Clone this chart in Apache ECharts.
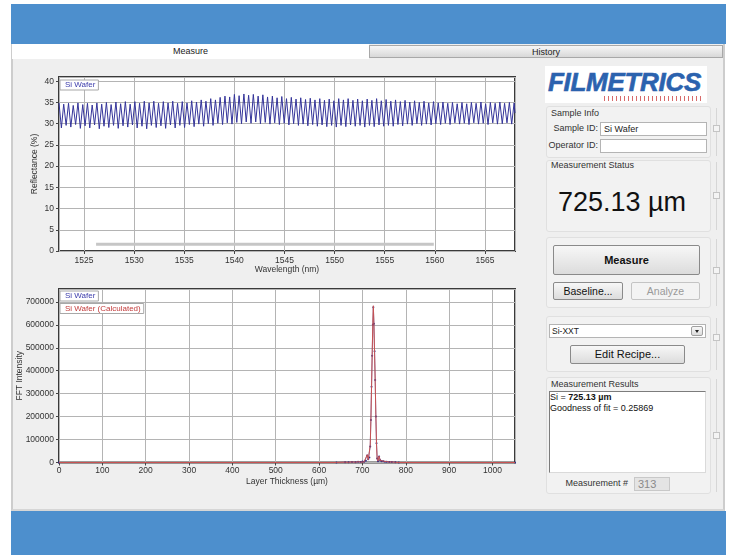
<!DOCTYPE html>
<html><head><meta charset="utf-8">
<script src="https://cdn.jsdelivr.net/npm/echarts@6/dist/echarts.min.js"></script>
<style>
html,body{margin:0;padding:0;}
body{width:731px;height:556px;position:relative;overflow:hidden;background:#fff;font-family:"Liberation Sans",Arial,sans-serif;color:#222;}
.a{position:absolute;box-sizing:border-box;white-space:nowrap;}
.band{background:#4d8fcd;}
.lbl{font-size:9px;line-height:9px;color:#333;}
.tb{background:#fff;border:1px solid #b4b4b4;}
.btn{background:linear-gradient(#f7f7f7,#dcdcdc);border:1px solid #8a8a8a;border-radius:2px;text-align:center;color:#111;}
.grp{border:1px solid #e0e0e0;border-radius:3px;background:#f2f2f2;}
.hl{width:1px;background:#d6d6d6;}
.hb{width:7px;height:7px;border:1px solid #c4c4c4;background:#f4f4f4;}
#chart{position:absolute;left:0;top:0;width:731px;height:556px;}
</style></head>
<body>
<div class="a band" style="left:11px;top:4px;width:715px;height:40px"></div>
<div class="a band" style="left:11px;top:511px;width:715px;height:44px"></div>
<div class="a" style="left:11px;top:44px;width:714px;height:467px;background:#efefef;border-left:2px solid #cdcdcd;border-right:2px solid #cdcdcd;border-bottom:2px solid #d6d6d6"></div>
<div class="a" style="left:12px;top:44px;width:357px;height:15px;background:#fff;font-size:9px;line-height:15px;text-align:center;color:#222">Measure</div>
<div class="a" style="left:369px;top:45px;width:354px;height:13px;background:linear-gradient(#f6f6f6,#d8d8d8);border:1px solid #a8a8a8;font-size:9px;line-height:12px;text-align:center;color:#222">History</div>

<!-- right panel -->
<div class="a" style="left:545px;top:66px;width:162px;height:37px;background:#fff"></div>
<div class="a" style="left:548px;top:69px;font:italic bold 26px 'Liberation Sans',Arial,sans-serif;line-height:26px;color:#2b62ae;letter-spacing:-0.3px;-webkit-text-stroke:0.6px #2b62ae">FILMETRICS</div>
<div class="a" style="left:604px;top:96px;width:100px;height:5px;background:repeating-linear-gradient(90deg,#d86a6a 0 1px,transparent 1px 4px)"></div>

<div class="a grp" style="left:546px;top:106px;width:165px;height:52px"></div>
<div class="a lbl" style="left:551px;top:109px">Sample Info</div>
<div class="a lbl" style="left:548px;width:50px;top:124px;text-align:right">Sample ID:</div>
<div class="a tb" style="left:600px;top:122px;width:107px;height:14px;font-size:9px;line-height:12px;padding-left:3px;color:#222">Si Wafer</div>
<div class="a lbl" style="left:546px;width:52px;top:140.5px;text-align:right">Operator ID:</div>
<div class="a tb" style="left:600px;top:138.5px;width:107px;height:14px"></div>

<div class="a grp" style="left:546px;top:160px;width:165px;height:72px"></div>
<div class="a lbl" style="left:551px;top:161px">Measurement Status</div>
<div class="a" style="left:548px;width:148px;top:189px;text-align:center;font-size:27px;line-height:27px;color:#111">725.13 µm</div>

<div class="a grp" style="left:546px;top:237px;width:165px;height:71px"></div>
<div class="a btn" style="left:553px;top:245px;width:147px;height:30px;font-size:11px;font-weight:bold;line-height:28px">Measure</div>
<div class="a btn" style="left:553px;top:282px;width:70px;height:18px;font-size:10.5px;line-height:16px">Baseline...</div>
<div class="a btn" style="left:631px;top:282px;width:69px;height:18px;font-size:10.5px;line-height:16px;color:#9a9a9a;border-color:#c4c4c4;background:#f3f3f3">Analyze</div>

<div class="a grp" style="left:546px;top:316px;width:165px;height:56px"></div>
<div class="a tb" style="left:549px;top:324px;width:157px;height:14px;font-size:8.5px;line-height:12px;padding-left:2px;color:#222">Si-XXT</div>
<div class="a btn" style="left:691px;top:326px;width:12px;height:10px;border-color:#a0a0a0"></div>
<div class="a" style="left:694.5px;top:330px;width:0;height:0;border-left:2.5px solid transparent;border-right:2.5px solid transparent;border-top:3px solid #222"></div>
<div class="a btn" style="left:570px;top:345px;width:115px;height:19px;font-size:11px;line-height:17px">Edit Recipe...</div>

<div class="a grp" style="left:546px;top:377px;width:165px;height:117px"></div>
<div class="a lbl" style="left:551px;top:379.5px">Measurement Results</div>
<div class="a" style="left:549px;top:391px;width:157px;height:82px;background:#fff;border-top:1px solid #7c7c7c;border-left:1px solid #7c7c7c;border-right:1px solid #dadada;border-bottom:1px solid #dadada"></div>
<div class="a lbl" style="left:550px;top:392.5px;color:#111">Si = <b>725.13 µm</b></div>
<div class="a lbl" style="left:550px;top:404px;color:#111">Goodness of fit = 0.25869</div>
<div class="a lbl" style="left:560px;width:68px;top:478.5px;text-align:right">Measurement #</div>
<div class="a" style="left:634px;top:477px;width:36px;height:14px;background:#e4e4e4;border:1px solid #c8c8c8;font-size:11px;line-height:12px;padding-left:3px;color:#8a8a8a">313</div>

<div class="a hl" style="left:716px;top:108px;height:48px"></div>
<div class="a hb" style="left:713px;top:125px"></div>
<div class="a hl" style="left:716px;top:162px;height:68px"></div>
<div class="a hb" style="left:713px;top:192px"></div>
<div class="a hl" style="left:716px;top:239px;height:67px"></div>
<div class="a hb" style="left:713px;top:267px"></div>
<div class="a hl" style="left:716px;top:318px;height:52px"></div>
<div class="a hb" style="left:713px;top:334px"></div>
<div class="a hl" style="left:716px;top:379px;height:113px"></div>
<div class="a hb" style="left:713px;top:432px"></div>

<div id="chart"></div>
<script>
// ---- Reflectance spectrum (top chart) ----
const wavelengthNm = [
1522.50,1522.74,1522.97,1523.21,1523.45,1523.68,1523.92,1524.16,1524.39,1524.63,
1524.87,1525.10,1525.34,1525.57,1525.81,1526.05,1526.28,1526.52,1526.76,1526.99,
1527.23,1527.47,1527.70,1527.94,1528.18,1528.41,1528.65,1528.89,1529.12,1529.36,
1529.60,1529.83,1530.07,1530.30,1530.54,1530.78,1531.01,1531.25,1531.49,1531.72,
1531.96,1532.20,1532.43,1532.67,1532.91,1533.14,1533.38,1533.62,1533.85,1534.09,
1534.33,1534.56,1534.80,1535.03,1535.27,1535.51,1535.74,1535.98,1536.22,1536.45,
1536.69,1536.93,1537.16,1537.40,1537.64,1537.87,1538.11,1538.35,1538.58,1538.82,
1539.06,1539.29,1539.53,1539.76,1540.00,1540.24,1540.47,1540.71,1540.95,1541.18,
1541.42,1541.66,1541.89,1542.13,1542.37,1542.60,1542.84,1543.08,1543.31,1543.55,
1543.79,1544.02,1544.26,1544.49,1544.73,1544.97,1545.20,1545.44,1545.68,1545.91,
1546.15,1546.39,1546.62,1546.86,1547.10,1547.33,1547.57,1547.81,1548.04,1548.28,
1548.52,1548.75,1548.99,1549.22,1549.46,1549.70,1549.93,1550.17,1550.41,1550.64,
1550.88,1551.12,1551.35,1551.59,1551.83,1552.06,1552.30,1552.54,1552.77,1553.01,
1553.25,1553.48,1553.72,1553.95,1554.19,1554.43,1554.66,1554.90,1555.14,1555.37,
1555.61,1555.85,1556.08,1556.32,1556.56,1556.79,1557.03,1557.27,1557.50,1557.74,
1557.98,1558.21,1558.45,1558.68,1558.92,1559.16,1559.39,1559.63,1559.87,1560.10,
1560.34,1560.58,1560.81,1561.05,1561.29,1561.52,1561.76,1562.00,1562.23,1562.47,
1562.71,1562.94,1563.18,1563.41,1563.65,1563.89,1564.12,1564.36,1564.60,1564.83,
1565.07,1565.31,1565.54,1565.78,1566.02,1566.25,1566.49,1566.73,1566.96,1567.20,
1567.44,1567.67,1567.91,1568.00
];
const reflectancePct = [
34.9,29.0,34.6,29.6,34.8,29.2,34.3,29.8,34.9,28.9,
34.5,29.5,34.8,29.0,34.4,29.7,34.9,28.8,34.6,29.4,
35.0,29.1,34.5,29.6,35.1,28.9,34.7,29.5,35.2,29.2,
34.6,29.7,35.2,29.0,34.8,29.4,35.3,28.8,34.9,29.6,
35.3,29.1,34.8,29.5,35.2,28.9,34.9,29.7,35.3,29.0,
34.8,29.6,35.2,29.1,34.9,29.8,35.4,29.3,35.1,29.9,
35.6,29.4,35.3,30.0,35.9,29.6,35.6,30.1,36.2,29.8,
36.5,30.2,36.3,29.9,36.9,30.3,36.6,30.0,37.0,30.4,
36.7,30.1,36.9,30.4,36.5,30.0,36.8,30.3,36.3,29.9,
36.5,30.2,36.1,29.8,36.4,30.1,35.9,29.7,36.2,30.0,
35.8,29.6,36.1,29.9,35.7,29.5,36.0,29.8,35.6,29.4,
35.9,29.7,35.5,29.3,35.8,29.6,35.4,29.2,35.9,29.6,
35.6,29.3,35.9,29.7,35.5,29.4,35.8,29.6,35.4,29.2,
35.8,29.6,35.5,29.3,35.9,29.7,35.4,29.4,35.7,29.6,
35.3,29.4,35.6,29.8,35.2,29.5,35.5,29.9,35.1,29.6,
35.4,30.0,35.0,29.6,35.3,29.9,34.9,29.7,35.2,30.0,
34.9,29.8,35.1,30.1,34.8,29.8,35.0,30.2,34.7,29.9,
35.0,30.1,34.7,29.8,35.0,30.2,34.8,29.9,35.1,30.1,
34.7,29.8,35.0,30.2,34.8,29.9,35.1,30.0,34.8,30.2,
35.0,29.9,34.9,32.5
];
const scanRangeNm = [1526.2, 1559.9];
const scanRangeLevel = [1.6, 1.6];

// ---- FFT (bottom chart) ----
const fftThicknessUm = [0,640,660,668,676,684,690,696,700,704,708,711,713.5,716,718,719.5,721,722.5,724,725.2,726.5,728,729.5,731,732.5,734,736,738.5,741,744,748,752,756,762,768,776,784,1052];
const fftMeasured   = [0,0,1200,800,2200,1400,3000,1800,4500,3000,8000,30000,14000,22000,70000,185000,330000,465000,600000,676000,605000,485000,360000,200000,84000,17000,5000,26000,10000,5000,5000,3000,3500,1800,2000,1000,0,0];
const fftCalculated = [0,0,1500,500,2500,1000,3500,1500,5000,2500,9000,34000,12000,20000,75000,180000,320000,470000,610000,683000,600000,480000,350000,210000,80000,15000,6000,28000,9000,4000,6000,2500,4000,1500,2500,800,0,0];

const seriesNames = ['Si Wafer', 'Si Wafer (Calculated)'];
const axisNames = ['Wavelength (nm)', 'Reflectance (%)', 'Layer Thickness (µm)', 'FFT Intensity'];

const zip = (xs, ys) => xs.map((x, i) => [x, ys[i]]);
const FONT = 'Liberation Sans';
const lab = {fontSize: 8.5, color: '#333', fontFamily: FONT};
const plain = v => String(v);
const grid = {show: true, backgroundColor: '#fff', borderColor: '#3a3a3a', borderWidth: 2};
const split = {show: true, lineStyle: {color: '#b4b4b4', width: 1}};
const tick = {show: true, length: 3, lineStyle: {color: '#444'}};
const legendBase = {icon: 'none', itemWidth: 0, itemHeight: 8, selectedMode: false,
  padding: [1, 3, 1, 0], backgroundColor: '#fff', borderColor: '#a8a8a8', borderWidth: 1, borderRadius: 0};

const chart = echarts.init(document.getElementById('chart'), null, {renderer: 'canvas'});
chart.setOption({
  animation: false,
  backgroundColor: 'transparent',
  textStyle: {fontFamily: FONT},
  grid: [
    Object.assign({left: 59, top: 77, width: 456, height: 174}, grid),
    Object.assign({left: 59, top: 289, width: 456, height: 173.5}, grid)
  ],
  legend: [
    Object.assign({data: [seriesNames[0]], left: 60, top: 80, textStyle: {fontSize: 8, color: '#3b3bab', fontFamily: FONT}}, legendBase),
    Object.assign({data: [seriesNames[0]], left: 60, top: 291, textStyle: {fontSize: 8, color: '#3b3bab', fontFamily: FONT}}, legendBase),
    Object.assign({data: [seriesNames[1]], left: 60, top: 303.5, textStyle: {fontSize: 8, color: '#c23a3a', fontFamily: FONT}}, legendBase)
  ],
  xAxis: [
    {gridIndex: 0, type: 'value', min: 1522.5, max: 1568, splitNumber: 9, minInterval: 5, maxInterval: 5,
     axisLine: {show: false}, axisTick: tick, splitLine: split,
     axisLabel: Object.assign({margin: 5, showMinLabel: false, showMaxLabel: false, formatter: plain}, lab),
     name: axisNames[0], nameLocation: 'middle', nameGap: 14, nameMoveOverlap: false, nameTextStyle: lab},
    {gridIndex: 1, type: 'value', min: 0, max: 1052, interval: 100,
     axisLine: {show: false}, axisTick: tick, splitLine: split,
     axisLabel: Object.assign({margin: 4, showMaxLabel: false, formatter: plain}, lab),
     name: axisNames[2], nameLocation: 'middle', nameGap: 15, nameMoveOverlap: false, nameTextStyle: lab}
  ],
  yAxis: [
    {gridIndex: 0, type: 'value', min: 0, max: 41, interval: 5,
     axisLine: {show: false}, axisTick: tick, splitLine: split,
     axisLabel: Object.assign({margin: 5, showMaxLabel: false, formatter: plain}, lab),
     name: axisNames[1], nameLocation: 'middle', nameGap: 20, nameMoveOverlap: false, nameTextStyle: lab},
    {gridIndex: 1, type: 'value', min: 0, max: 756000, interval: 100000,
     axisLine: {show: false}, axisTick: tick, splitLine: split,
     axisLabel: Object.assign({margin: 5, showMaxLabel: false, formatter: plain}, lab),
     name: axisNames[3], nameLocation: 'middle', nameGap: 35, nameMoveOverlap: false, nameTextStyle: lab}
  ],
  series: [
    {name: seriesNames[0], type: 'line', xAxisIndex: 0, yAxisIndex: 0, data: zip(wavelengthNm, reflectancePct),
     showSymbol: false, lineStyle: {color: '#34349a', width: 1}, itemStyle: {color: '#34349a'}, z: 3},
    {name: 'scan', type: 'line', xAxisIndex: 0, yAxisIndex: 0, data: zip(scanRangeNm, scanRangeLevel),
     showSymbol: false, lineStyle: {color: '#c6c6c6', width: 3}, z: 2},
    {name: seriesNames[0], type: 'line', xAxisIndex: 1, yAxisIndex: 1, data: zip(fftThicknessUm, fftMeasured),
     showSymbol: true, symbol: 'circle', symbolSize: 2, lineStyle: {color: '#2a2a86', width: 0.6}, itemStyle: {color: '#2a2a86'}, z: 3},
    {name: seriesNames[1], type: 'line', xAxisIndex: 1, yAxisIndex: 1, data: zip(fftThicknessUm, fftCalculated),
     showSymbol: false, lineStyle: {color: '#c85252', width: 1}, itemStyle: {color: '#c85252'}, z: 4}
  ]
});
</script>
</body></html>
